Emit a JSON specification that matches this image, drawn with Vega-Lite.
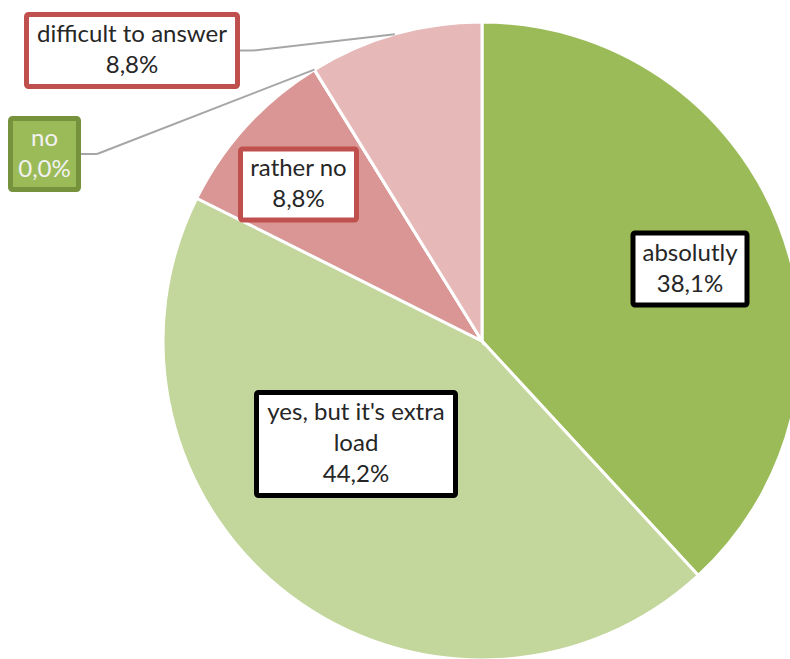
{
  "$schema": "https://vega.github.io/schema/vega-lite/v6.json",
  "width": 790,
  "height": 659,
  "autosize": "none",
  "padding": 0,
  "background": "white",
  "config": {"view": {"stroke": null}},
  "data": {
    "values": [
      {"category": "absolutly", "value": 38.1},
      {"category": "yes, but it's extra load", "value": 44.2},
      {"category": "rather no", "value": 8.8},
      {"category": "no", "value": 0.0},
      {"category": "difficult to answer", "value": 8.8}
    ]
  },
  "transform": [
    {"window": [{"op": "row_number", "as": "idx"}]},
    {"joinaggregate": [{"op": "sum", "field": "value", "as": "total"}]},
    {"window": [{"op": "sum", "field": "value", "as": "cum"}], "sort": [{"field": "idx"}], "frame": [null, 0]},
    {"calculate": "2*PI*(datum.cum - datum.value/2)/datum.total", "as": "mid"},
    {"calculate": "sin(datum.mid)*319", "as": "rimx"},
    {"calculate": "cos(datum.mid)*319", "as": "rimy"},
    {"calculate": "replace(format(datum.value, '.1f'), '.', ',') + '%'", "as": "pct"},
    {"calculate": "replace(datum.category, ' load', '|load') + '|' + datum.pct", "as": "label"},
    {"calculate": "datum.category=='absolutly'?208:datum.category=='rather no'?-183.5:datum.category=='no'?-437.5:datum.category=='difficult to answer'?-350:-126", "as": "cx"},
    {"calculate": "datum.category=='absolutly'?72:datum.category=='rather no'?156.5:datum.category=='no'?187:datum.category=='difficult to answer'?290.5:-103", "as": "cy"},
    {"calculate": "datum.category=='absolutly'?57:datum.category=='rather no'?58:datum.category=='no'?34:datum.category=='difficult to answer'?105.5:99.5", "as": "hw"},
    {"calculate": "datum.category=='absolutly'?36:datum.category=='rather no'?35.5:datum.category=='no'?35.5:datum.category=='difficult to answer'?36:51.5", "as": "hh"},
    {"calculate": "datum.cx - datum.hw", "as": "bx0"},
    {"calculate": "datum.cx + datum.hw", "as": "bx1"},
    {"calculate": "datum.cy - datum.hh", "as": "by0"},
    {"calculate": "datum.cy + datum.hh", "as": "by1"},
    {"calculate": "datum.cy + (length(split(datum.label, '|')) - 1) * 15.5", "as": "ty"},
    {"calculate": "datum.cx + datum.hw + 2.5", "as": "lx0"},
    {"calculate": "datum.category=='no'?-385:-229", "as": "ex"}
  ],
  "layer": [
    {
      "mark": {"type": "arc", "outerRadius": 319, "stroke": "white", "strokeWidth": 3},
      "encoding": {
        "theta": {"field": "value", "type": "quantitative", "stack": true},
        "order": {"field": "idx", "type": "quantitative"},
        "color": {
          "field": "category", "type": "nominal", "legend": null,
          "scale": {
            "domain": ["absolutly", "yes, but it's extra load", "rather no", "no", "difficult to answer"],
            "range": ["#9BBB59", "#C3D69B", "#D99694", "#77933C", "#E6B9B8"]
          }
        },
        "x": {"datum": 0, "type": "quantitative", "axis": null, "scale": {"domain": [-482, 308], "nice": false, "zero": false}},
        "y": {"datum": 0, "type": "quantitative", "axis": null, "scale": {"domain": [-318, 341], "nice": false, "zero": false}}
      }
    },
    {
      "transform": [{"filter": "datum.category=='no' || datum.category=='difficult to answer'"}],
      "mark": {"type": "rule", "color": "#A6A6A6", "strokeWidth": 2},
      "encoding": {
        "x": {"field": "lx0", "type": "quantitative", "axis": null, "scale": {"domain": [-482, 308], "nice": false, "zero": false}},
        "x2": {"field": "ex"},
        "y": {"field": "cy", "type": "quantitative", "axis": null, "scale": {"domain": [-318, 341], "nice": false, "zero": false}},
        "y2": {"field": "cy"}
      }
    },
    {
      "transform": [{"filter": "datum.category=='no' || datum.category=='difficult to answer'"}],
      "mark": {"type": "rule", "color": "#A6A6A6", "strokeWidth": 2},
      "encoding": {
        "x": {"field": "ex", "type": "quantitative", "axis": null, "scale": {"domain": [-482, 308], "nice": false, "zero": false}},
        "x2": {"field": "rimx"},
        "y": {"field": "cy", "type": "quantitative", "axis": null, "scale": {"domain": [-318, 341], "nice": false, "zero": false}},
        "y2": {"field": "rimy"}
      }
    },
    {
      "mark": {"type": "rect", "strokeWidth": 5, "cornerRadius": 2},
      "encoding": {
        "x": {"field": "bx0", "type": "quantitative", "axis": null, "scale": {"domain": [-482, 308], "nice": false, "zero": false}},
        "x2": {"field": "bx1"},
        "y": {"field": "by0", "type": "quantitative", "axis": null, "scale": {"domain": [-318, 341], "nice": false, "zero": false}},
        "y2": {"field": "by1"},
        "fill": {"condition": {"test": "datum.category=='no'", "value": "#9BBB59"}, "value": "white"},
        "stroke": {
          "field": "category", "type": "nominal", "legend": null,
          "scale": {
            "domain": ["absolutly", "yes, but it's extra load", "rather no", "no", "difficult to answer"],
            "range": ["#000000", "#000000", "#C0504D", "#76923C", "#C0504D"]
          }
        }
      }
    },
    {
      "mark": {"type": "text", "font": "Lato", "fontSize": 24, "lineBreak": "|", "lineHeight": 31, "align": "center", "baseline": "middle"},
      "encoding": {
        "x": {"field": "cx", "type": "quantitative", "axis": null, "scale": {"domain": [-482, 308], "nice": false, "zero": false}},
        "y": {"field": "ty", "type": "quantitative", "axis": null, "scale": {"domain": [-318, 341], "nice": false, "zero": false}},
        "text": {"field": "label"},
        "color": {"condition": {"test": "datum.category=='no'", "value": "#F2F2F2"}, "value": "#262626"}
      }
    }
  ]
}
